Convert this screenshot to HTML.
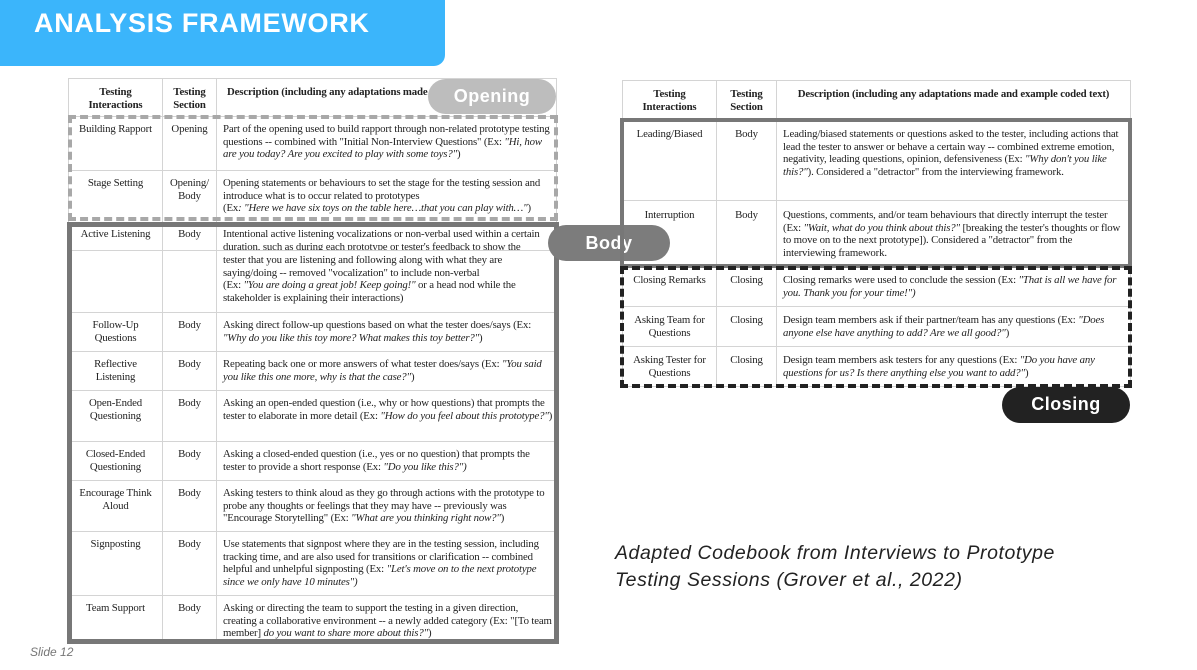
<!DOCTYPE html>
<html><head><meta charset="utf-8"><style>
*{margin:0;padding:0;box-sizing:border-box}
body{width:1197px;height:670px;background:#fff;position:relative;overflow:hidden;font-family:"Liberation Serif",serif}
.banner{position:absolute;left:0;top:0;width:445px;height:66px;background:#3bb5fb;border-bottom-right-radius:11px}
.banner span{position:absolute;left:34px;top:8px;color:#fff;font:bold 27px "Liberation Sans",sans-serif;letter-spacing:0.7px}
table{position:absolute;border-collapse:collapse;table-layout:fixed;font-size:10.8px;line-height:12.6px;color:#222;letter-spacing:-0.15px}
td{border:1px solid #d4d4d4;vertical-align:top;padding:6px 3px 0 6px;overflow:hidden}
td.c{text-align:center;padding:6px 2px 0 2px}
th{border:1px solid #d4d4d4;font-weight:bold;vertical-align:top;padding:7px 3px 0 3px;font-size:10.8px;line-height:12.5px}
th.l{text-align:left;padding-left:10px}
i{font-style:italic}
.pill{position:absolute;color:#fff;font:bold 18px "Liberation Sans",sans-serif;text-align:center;border-radius:18px;letter-spacing:0.5px}
.box{position:absolute}
</style></head><body>
<div class="banner"><span>ANALYSIS FRAMEWORK</span></div>

<table style="left:68px;top:78px;width:488px">
<colgroup><col style="width:94px"><col style="width:54px"><col style="width:340px"></colgroup>
<tr style="height:38px"><th>Testing<br>Interactions</th><th>Testing<br>Section</th><th class="l">Description (including any adaptations made</th></tr>
<tr style="height:54px"><td class="c">Building Rapport</td><td class="c">Opening</td><td>Part of the opening used to build rapport through non-related prototype testing questions -- combined with "Initial Non-Interview Questions" (Ex: <i>"Hi, how are you today? Are you excited to play with some toys?"</i>)</td></tr>
<tr style="height:52px"><td class="c">Stage Setting</td><td class="c">Opening/<br>Body</td><td>Opening statements or behaviours to set the stage for the testing session and introduce what is to occur related to prototypes<br>(Ex<i>: "Here we have six toys on the table here…that you can play with…"</i>)</td></tr>
<tr style="height:28px"><td class="c" style="padding-top:5px">Active Listening</td><td class="c" style="padding-top:5px">Body</td><td style="white-space:nowrap;padding-top:5px;height:28px"><div style="height:22px;overflow:hidden">Intentional active listening vocalizations or non-verbal used within a certain<br>duration, such as during each prototype or tester's feedback to show the</div></td></tr>
<tr style="height:62px"><td></td><td></td><td style="padding-top:3px">tester that you are listening and following along with what they are saying/doing -- removed "vocalization" to include non-verbal<br>(Ex: <i>"You are doing a great job! Keep going!"</i> or a head nod while the stakeholder is explaining their interactions)</td></tr>
<tr style="height:39px"><td class="c">Follow-Up<br>Questions</td><td class="c">Body</td><td>Asking direct follow-up questions based on what the tester does/says (Ex: <i>"Why do you like this toy more? What makes this toy better?"</i>)</td></tr>
<tr style="height:39px"><td class="c">Reflective<br>Listening</td><td class="c">Body</td><td>Repeating back one or more answers of what tester does/says (Ex: <i>"You said you like this one more, why is that the case?"</i>)</td></tr>
<tr style="height:51px"><td class="c">Open-Ended<br>Questioning</td><td class="c">Body</td><td>Asking an open-ended question (i.e., why or how questions) that prompts the tester to elaborate in more detail (Ex: <i>"How do you feel about this prototype?"</i>)</td></tr>
<tr style="height:39px"><td class="c">Closed-Ended<br>Questioning</td><td class="c">Body</td><td>Asking a closed-ended question (i.e., yes or no question) that prompts the tester to provide a short response (Ex: <i>"Do you like this?")</i></td></tr>
<tr style="height:51px"><td class="c">Encourage Think<br>Aloud</td><td class="c">Body</td><td>Asking testers to think aloud as they go through actions with the prototype to probe any thoughts or feelings that they may have -- previously was "Encourage Storytelling" (Ex: <i>"What are you thinking right now?"</i>)</td></tr>
<tr style="height:64px"><td class="c">Signposting</td><td class="c">Body</td><td>Use statements that signpost where they are in the testing session, including tracking time, and are also used for transitions or clarification -- combined helpful and unhelpful signposting (Ex: <i>"Let's move on to the next prototype since we only have 10 minutes")</i></td></tr>
<tr style="height:46px"><td class="c">Team Support</td><td class="c">Body</td><td>Asking or directing the team to support the testing in a given direction, creating a collaborative environment -- a newly added category (Ex: "[To team member] <i>do you want to share more about this?"</i>)</td></tr>
</table>
<div class="box" style="left:68px;top:115px;width:490px;height:106px;border:4px dashed #a8a8a8"></div>
<div class="box" style="left:67px;top:222px;width:492px;height:422px;border:5px solid #777"></div>
<div class="pill" style="left:428px;top:79px;width:128px;height:35px;line-height:35px;background:#bdbdbd">Opening</div>
<div class="pill" style="left:548px;top:225px;width:122px;height:36px;line-height:36px;background:#7c7c7c">Body</div>

<table style="left:622px;top:80px;width:508px">
<colgroup><col style="width:94px"><col style="width:60px"><col style="width:354px"></colgroup>
<tr style="height:38px"><th>Testing<br>Interactions</th><th>Testing<br>Section</th><th>Description (including any adaptations made and example coded text)</th></tr>
<tr style="height:82px"><td class="c" style="padding-top:9px">Leading/Biased</td><td class="c" style="padding-top:9px">Body</td><td style="padding-top:9px">Leading/biased statements or questions asked to the tester, including actions that lead the tester to answer or behave a certain way -- combined extreme emotion, negativity, leading questions, opinion, defensiveness (Ex: <i>"Why don't you like this?"</i>). Considered a "detractor" from the interviewing framework.</td></tr>
<tr style="height:66px"><td class="c" style="padding-top:8px">Interruption</td><td class="c" style="padding-top:8px">Body</td><td style="padding-top:8px">Questions, comments, and/or team behaviours that directly interrupt the tester (Ex: <i>"Wait, what do you think about this?"</i> [breaking the tester's thoughts or flow to move on to the next prototype]). Considered a "detractor" from the interviewing framework.</td></tr>
<tr style="height:40px"><td class="c" style="padding-top:7px">Closing Remarks</td><td class="c" style="padding-top:7px">Closing</td><td style="padding-top:7px">Closing remarks were used to conclude the session (Ex: <i>"That is all we have for you. Thank you for your time!")</i></td></tr>
<tr style="height:40px"><td class="c" style="padding-top:7px">Asking Team for<br>Questions</td><td class="c" style="padding-top:7px">Closing</td><td style="padding-top:7px">Design team members ask if their partner/team has any questions (Ex: <i>"Does anyone else have anything to add? Are we all good?"</i>)</td></tr>
<tr style="height:40px"><td class="c" style="padding-top:7px">Asking Tester for<br>Questions</td><td class="c" style="padding-top:7px">Closing</td><td style="padding-top:7px">Design team members ask testers for any questions (Ex: <i>"Do you have any questions for us? Is there anything else you want to add?"</i>)</td></tr>
</table>
<div class="box" style="left:620px;top:118px;width:512px;height:150px;border:4px solid #777"></div>
<div class="box" style="left:620px;top:266px;width:512px;height:122px;border:4px dashed #222"></div>
<div class="pill" style="left:1002px;top:387px;width:128px;height:36px;line-height:34px;background:#222">Closing</div>

<div style="position:absolute;left:615px;top:540px;font:italic 19.5px/27px 'Liberation Sans',sans-serif;color:#222;letter-spacing:0.55px">Adapted Codebook from Interviews to Prototype<br>Testing Sessions (Grover et al., 2022)</div>
<div style="position:absolute;left:30px;top:645px;font:italic 12px 'Liberation Sans',sans-serif;color:#777">Slide 12</div>
</body></html>
